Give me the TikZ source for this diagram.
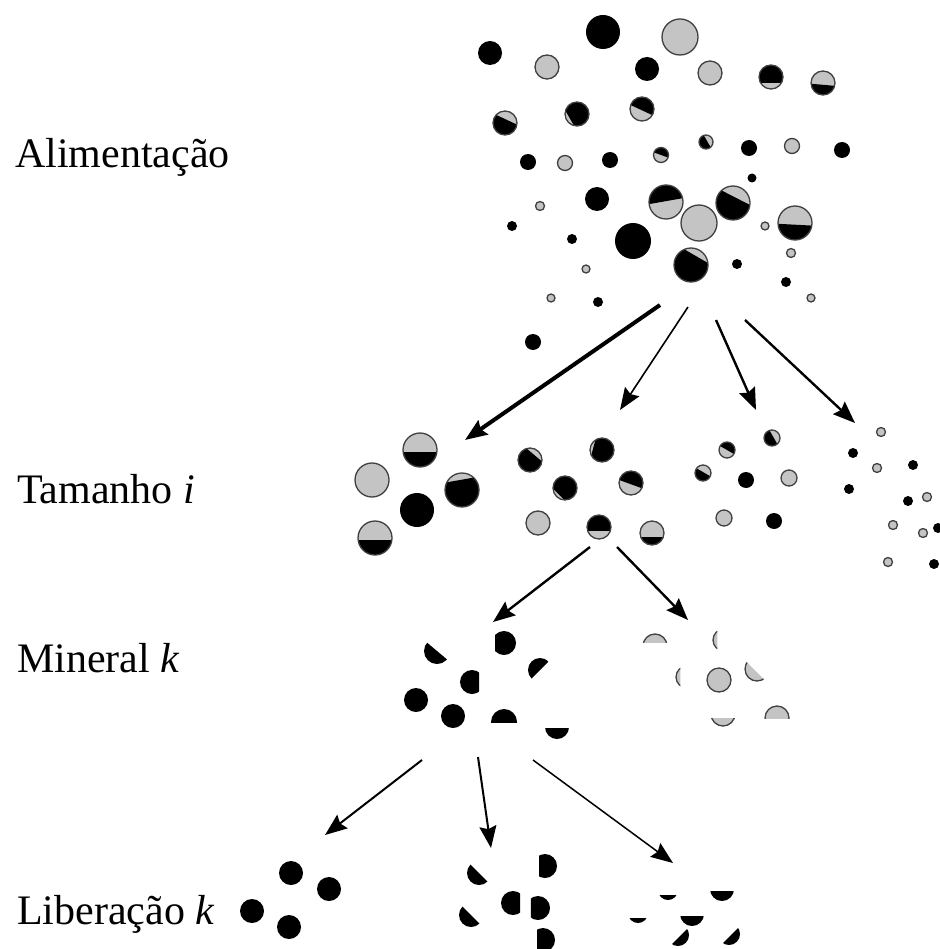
\documentclass[tikz,border=0pt]{standalone}
\usepackage{fontspec}
\setmainfont{Liberation Serif}
\usetikzlibrary{arrows.meta}

\definecolor{cinzaclaro}{gray}{0.77}
\tikzset{
  cinza/.style={fill=cinzaclaro, draw=black!75, line width=1.3pt},
  preta/.style={fill=black},
  rotulo/.style={anchor=base west, inner sep=0pt, font=\fontsize{42}{50}\selectfont},
  seta/.style={-{Stealth[length=22pt,width=17pt,inset=3pt]}, line width=2.4pt},
}

% particula mista: x, y, raio, angulo do lado preto, posicao da corda
\newcommand{\mista}[5]{%
  \begin{scope}
    \clip (#1,#2) circle (#3);
    \fill[cinzaclaro] (#1,#2) circle (#3);
    \fill[rotate around={#4:(#1,#2)}] ({#1-2*#3},{#2+#5*#3}) rectangle ({#1+2*#3},{#2+2*#3});
  \end{scope}
  \draw[black!75, line width=1.3pt] (#1,#2) circle (#3);}

% fragmento: estilo, x, y, raio, angulo do lado que fica, posicao do corte
\newcommand{\fragmento}[6]{%
  \begin{scope}
    \clip[rotate around={#5:(#2,#3)}] ({#2-2*#4},{#3+#6*#4}) rectangle ({#2+2*#4},{#3+2*#4});
    \path[#1] (#2,#3) circle (#4);
  \end{scope}}

\begin{document}
\begin{tikzpicture}[x=1pt, y=-1pt]
    \useasboundingbox (0,0) rectangle (939,949);

    \node[rotulo] (alim) at (15,168) {Alimentação};
    \node[rotulo] (tam) at (17,503) {Tamanho \textit{i}};
    \node[rotulo] (min) at (17,672) {Mineral \textit{k}};
    \node[rotulo] (lib) at (17,924) {Liberação \textit{k}};

    % particulas inteiras
    \foreach \x/\y/\r in {490/53/12, 603/32/17, 647/69/12, 528/162/8, 610/160/8,
        749/148/8, 842/150/8, 752/178/4.5, 597/199/12, 512/226/5, 572/239/5,
        633/241/18, 737/264/5, 786/282/5, 598/302/5, 533/342/8,
        417/510/17, 746/480/8, 774/521/8, 853/453/5, 913/465/5, 849/489/5,
        908/501/5, 938/528/5, 934/564/5,
        416/700/12, 453/716/12,
        291/873/12, 329/889/12, 252/911/12, 289/927/12}
      \fill (\x,\y) circle (\r);
    \foreach \x/\y/\r in {547/67/12, 680/37/18, 710/73/12, 565/163/7.5, 792/146/7.5,
        540/206/4.5, 699/223/18, 765/226/4, 791/253/4.5, 586/269/4, 551/298/4,
        811/298/4,
        372/480/17, 538/523/12, 789/478/8, 724/518/8, 881/432/4.5, 877/468/4.5,
        927/497/4.5, 893/525/4.5, 923/533/4.5, 888/562/4.5,
        719/680/12}
      \path[cinza] (\x,\y) circle (\r);

    % particulas mistas
    \mista{771}{77}{12}{180}{-0.5}
    \mista{823}{83}{12}{-5}{0.15}
    \mista{505}{123}{12}{-25}{-0.3}
    \mista{577}{114}{12}{120}{-0.7}
    \mista{642}{109}{12}{155}{-0.1}
    \mista{661}{155}{7.5}{160}{0}
    \mista{706}{142}{7}{-60}{-0.2}
    \mista{666}{202}{17}{190}{0.05}
    \mista{733}{203}{17}{-27}{-0.35}
    \mista{795}{223}{17}{-3}{0.1}
    \mista{691}{265}{17}{-30}{-0.6}

    \mista{420}{450}{17}{0}{0.1}
    \mista{462}{490}{17}{10}{-0.6}
    \mista{375}{538}{17}{0}{0.1}
    \mista{530}{460}{12}{-40}{-0.55}
    \mista{602}{450}{12}{75}{-0.75}
    \mista{565}{488}{12}{135}{-0.75}
    \mista{631}{483}{12}{160}{-0.1}
    \mista{599}{527}{12}{180}{-0.35}
    \mista{652}{533}{12}{0}{0.3}
    \mista{727}{450}{8}{150}{0}
    \mista{772}{438}{8}{-60}{-0.2}
    \mista{703}{473}{8}{-30}{-0.1}

    % fragmentos
    \fragmento{preta}{437}{651}{13}{-40}{0}
    \fragmento{preta}{504}{643}{12}{90}{-0.75}
    \fragmento{preta}{472}{682}{12}{-90}{-0.6}
    \fragmento{preta}{540}{670}{12}{-135}{0}
    \fragmento{preta}{504}{722}{13}{180}{0}
    \fragmento{preta}{557}{727}{12}{0}{0.1}

    \fragmento{cinza}{655}{646}{12}{180}{0.3}
    \fragmento{cinza}{724}{640}{11}{-90}{0.6}
    \fragmento{cinza}{687}{677}{11}{-90}{0.6}
    \fragmento{cinza}{757}{669}{12}{-45}{0.2}
    \fragmento{cinza}{723}{714}{12}{0}{0.4}
    \fragmento{cinza}{777}{718}{12}{180}{0}

    \fragmento{preta}{479}{873}{12}{-45}{0}
    \fragmento{preta}{545}{866}{12}{90}{-0.5}
    \fragmento{preta}{513}{903}{12}{-90}{-0.6}
    \fragmento{preta}{538}{908}{12}{90}{-0.6}
    \fragmento{preta}{471}{915}{12}{-45}{0}
    \fragmento{preta}{543}{940}{12}{90}{-0.5}

    \fragmento{preta}{668}{890}{10}{0}{0.5}
    \fragmento{preta}{722}{889}{12}{0}{0.2}
    \fragmento{preta}{638}{913}{10}{0}{0.5}
    \fragmento{preta}{692}{914}{12}{0}{0.2}
    \fragmento{preta}{678}{935}{11}{45}{0.2}
    \fragmento{preta}{729}{934}{11}{45}{0.2}

    % setas
    \coordinate (a0) at (660,305);  \coordinate (a1) at (465,440);
    \coordinate (b0) at (688,307);  \coordinate (b1) at (620,410);
    \coordinate (c0) at (716,320);  \coordinate (c1) at (756,410);
    \coordinate (d0) at (745,320);  \coordinate (d1) at (855,423);
    \coordinate (e0) at (590,547);  \coordinate (e1) at (493,622);
    \coordinate (f0) at (617,547);  \coordinate (f1) at (688,620);
    \coordinate (g0) at (422,760);  \coordinate (g1) at (325,835);
    \coordinate (h0) at (478,757);  \coordinate (h1) at (491,848);
    \coordinate (j0) at (533,760);  \coordinate (j1) at (673,863);

    \draw[seta, line width=4pt] (a0) -- (a1);
    \draw[seta, line width=1.6pt] (b0) -- (b1);
    \draw[seta] (c0) -- (c1);
    \draw[seta] (d0) -- (d1);
    \draw[seta] (e0) -- (e1);
    \draw[seta] (f0) -- (f1);
    \draw[seta, line width=2pt] (g0) -- (g1);
    \draw[seta, line width=2pt] (h0) -- (h1);
    \draw[seta, line width=1.5pt] (j0) -- (j1);
\end{tikzpicture}
\end{document}
